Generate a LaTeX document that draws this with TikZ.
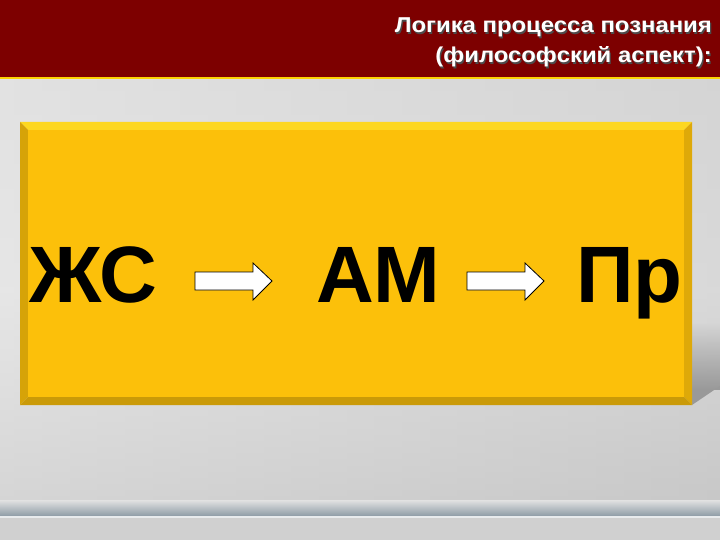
\documentclass[tikz,border=0pt]{standalone}
\usepackage{fontspec}
\setmainfont{Liberation Sans}
\usetikzlibrary{fadings}
\definecolor{hdr}{HTML}{7D0000}
\definecolor{boxy}{HTML}{FCC00A}
\definecolor{bgl}{HTML}{E2E2E2}
\definecolor{bgd}{HTML}{C8C8C8}
\definecolor{band}{HTML}{8E9CA6}
\tikzset{
  big/.style={font=\bfseries\fontsize{80}{80}\selectfont, text=black, inner sep=0pt, anchor=base west},
  blockarrow/.style={fill=white, draw=black, line width=0.8pt},
  ttl/.style={font=\bfseries\fontsize{21.5}{30}\selectfont, text=white, anchor=base east, inner sep=0pt, xscale=1.11}
}
\begin{document}
\begin{tikzpicture}[x=1pt,y=-1pt]
\useasboundingbox (0,0) rectangle (720,540);
% background
\shade[top color=bgl, bottom color=bgd, middle color=bgl!70!white] (0,78) rectangle (720,505);
\shade[left color=bgl, right color=bgd, opacity=0.5] (0,78) rectangle (720,505);
\shade[top color=bgl, bottom color=band] (0,500) rectangle (720,516);
\fill[white!80!band] (0,516) rectangle (720,518);
\fill[bgl!92!black] (0,518) rectangle (720,540);
% header
\fill[hdr] (0,0) rectangle (720,77);
\fill[yellow!70!orange] (0,77) rectangle (720,79.5);
\node[ttl, text=black!70] (t1s) at (713.2,34.2) {Логика процесса познания};
\node[ttl] (t1) at (712,33) {Логика процесса познания};
\node[ttl, text=black!70] (t2s) at (713.2,64.2) {(философский аспект):};
\node[ttl] (t2) at (712,63) {(философский аспект):};
% box shadow
\fill[black!40, path fading=north] (692,322) rectangle (720,390);
\fill[black!40] (692,389.5) -- (720,389.5) -- (720,386) -- (692,405) -- cycle;
% bevelled box
\fill[boxy!70!yellow!90!white] (20,122) -- (692,122) -- (684,130) -- (28,130) -- cycle;
\fill[boxy!85!black] (20,122) -- (28,130) -- (28,397) -- (20,405) -- cycle;
\fill[boxy!88!black] (692,122) -- (684,130) -- (684,397) -- (692,405) -- cycle;
\fill[boxy!80!black] (20,405) -- (28,397) -- (684,397) -- (692,405) -- cycle;
\fill[boxy] (28,130) rectangle (684,397);
% words
\node[big] (zs) at (29,302) {ЖС};
\node[big] (am) at (316,302) {АМ};
\node[big] (pr) at (576,302) {Пр};
% arrows
\draw[blockarrow] (195,272) -- (253,272) -- (253,263) -- (272,281) -- (253,300) -- (253,290) -- (195,290) -- cycle;
\draw[blockarrow] (467,272) -- (525,272) -- (525,263) -- (544,281) -- (525,300) -- (525,290) -- (467,290) -- cycle;
\end{tikzpicture}
\end{document}
